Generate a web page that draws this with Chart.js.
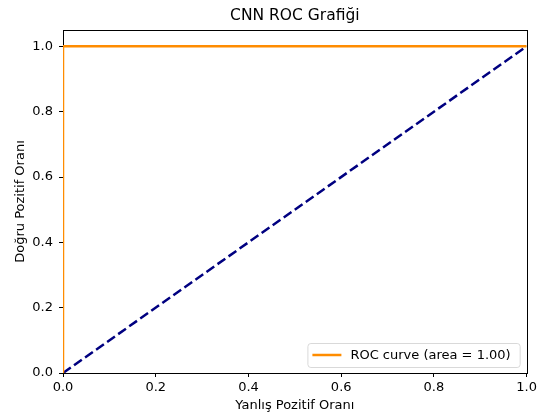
<!DOCTYPE html>
<html>
<head>
<meta charset="utf-8">
<script src="https://cdn.jsdelivr.net/npm/chart.js@4"></script>
<style>
  html, body { margin: 0; padding: 0; background: #fff; }
  #wrap { width: 540px; height: 414px; }
</style>
</head>
<body>
<div id="wrap"><canvas id="rocChart" width="540" height="414"></canvas></div>
<script>
// ROC curve points (false positive rate, true positive rate)
const rocFpr = [0.0, 0.0, 1.0];
const rocTpr = [0.0, 1.0, 1.0];
// Random-guess diagonal
const diagFpr = [0.0, 1.0];
const diagTpr = [0.0, 1.0];
// Tick labels
const xTicks = [0.0, 0.2, 0.4, 0.6, 0.8, 1.0];
const yTicks = [0.0, 0.2, 0.4, 0.6, 0.8, 1.0];

const chartTitle = 'CNN ROC Grafiği';
const rocLabel = 'ROC curve (area = 1.00)';
const FONT = "'DejaVu Sans', sans-serif";

const toPoints = (xs, ys) => xs.map((x, i) => ({ x: x, y: ys[i] }));

// Title, plot frame and inner legend, drawn like matplotlib
const mplDecor = {
    id: 'mplDecor',
    beforeDatasetsDraw(chart) {
        const { ctx, chartArea: a } = chart;
        ctx.save();
        // frame around plot area (under the lines)
        ctx.strokeStyle = '#000';
        ctx.lineWidth = 1;
        ctx.strokeRect(Math.round(a.left) + 0.5, Math.round(a.top) + 0.5,
            Math.round(a.right - a.left), Math.round(a.bottom - a.top));
        ctx.restore();
    },
    afterDraw(chart) {
        const { ctx, chartArea: a } = chart;
        ctx.save();

        // title centered on plot area
        ctx.fillStyle = '#000';
        ctx.font = '15.5px ' + FONT;
        ctx.textAlign = 'center';
        ctx.textBaseline = 'middle';
        ctx.fillText(chartTitle, (a.left + a.right) / 2, 16);

        // legend, lower right
        const ds = chart.data.datasets[0];
        ctx.font = '13px ' + FONT;
        const textW = ctx.measureText(ds.label).width;
        const boxW = textW + 52;
        const boxH = 24;
        const bx = a.right - 7 - boxW;
        const by = a.bottom - 6 - boxH;
        ctx.fillStyle = 'rgba(255,255,255,0.8)';
        ctx.strokeStyle = '#d9d9d9';
        ctx.lineWidth = 1;
        ctx.beginPath();
        ctx.roundRect(bx + 0.5, by + 0.5, boxW, boxH, 3);
        ctx.fill();
        ctx.stroke();

        ctx.strokeStyle = ds.borderColor;
        ctx.lineWidth = 2.5;
        ctx.beginPath();
        ctx.moveTo(bx + 5, by + boxH / 2);
        ctx.lineTo(bx + 34, by + boxH / 2);
        ctx.stroke();

        ctx.fillStyle = '#000';
        ctx.textAlign = 'left';
        ctx.fillText(ds.label, bx + 43, by + boxH / 2 + 1);
        ctx.restore();
    }
};

new Chart(document.getElementById('rocChart'), {
    type: 'scatter',
    data: {
        datasets: [{
            label: rocLabel,
            data: toPoints(rocFpr, rocTpr),
            showLine: true,
            borderColor: '#ff8c00',
            borderWidth: 2.5,
            pointRadius: 0,
            clip: 0,
            fill: false
        }, {
            label: 'diagonal',
            data: toPoints(diagFpr, diagTpr),
            showLine: true,
            borderColor: '#000080',
            borderWidth: 2.5,
            borderDash: [9.5, 4],
            pointRadius: 0,
            clip: 0,
            fill: false
        }]
    },
    options: {
        responsive: false,
        animation: false,
        events: [],
        layout: { padding: { left: 0, right: 12, top: 30, bottom: 0 } },
        plugins: {
            legend: { display: false },
            title: { display: false },
            tooltip: { enabled: false }
        },
        scales: {
            x: {
                type: 'linear',
                min: 0,
                max: 1.0,
                afterFit: (scale) => { scale.height = 41; },
                afterBuildTicks: (scale) => { scale.ticks = xTicks.map(v => ({ value: v })); },
                border: { display: false },
                grid: { drawOnChartArea: false, drawTicks: true, tickLength: 4, color: '#000' },
                ticks: {
                    color: '#000',
                    padding: 3,
                    font: { family: FONT, size: 13 },
                    callback: (v) => Number(v).toFixed(1)
                },
                title: {
                    display: true,
                    text: 'Yanlış Pozitif Oranı',
                    color: '#000',
                    font: { family: FONT, size: 13 },
                    padding: { top: 0, bottom: 1 }
                }
            },
            y: {
                type: 'linear',
                min: 0,
                max: 1.05,
                afterFit: (scale) => { scale.width = 63; },
                afterBuildTicks: (scale) => { scale.ticks = yTicks.map(v => ({ value: v })); },
                border: { display: false },
                grid: { drawOnChartArea: false, drawTicks: true, tickLength: 4, color: '#000' },
                ticks: {
                    color: '#000',
                    padding: 6,
                    font: { family: FONT, size: 13 },
                    callback: (v) => Number(v).toFixed(1)
                },
                title: {
                    display: true,
                    text: 'Doğru Pozitif Oranı',
                    color: '#000',
                    font: { family: FONT, size: 13 },
                    padding: { top: 13, bottom: 0 }
                }
            }
        }
    },
    plugins: [mplDecor]
});
</script>
</body>
</html>
